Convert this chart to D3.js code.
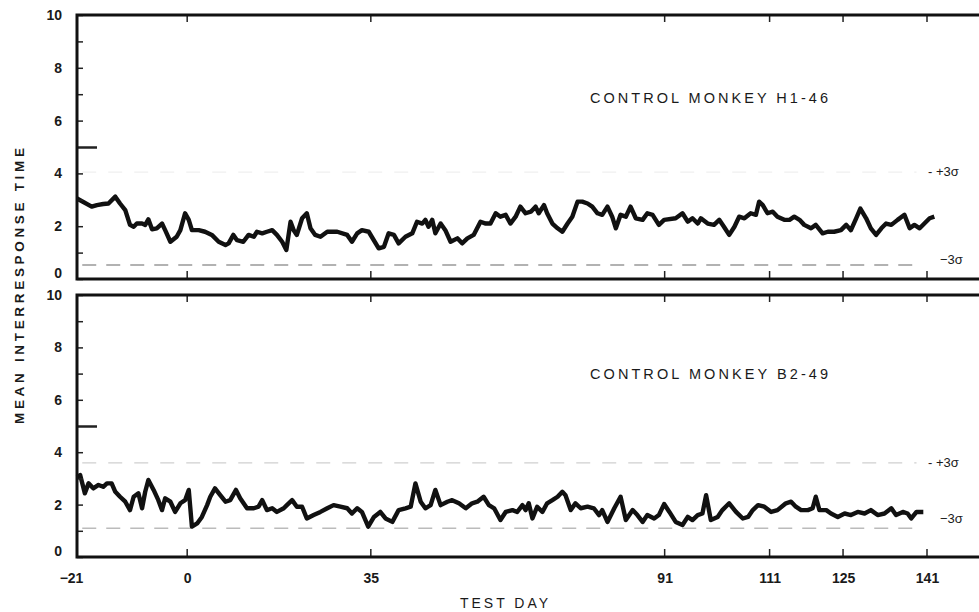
<!DOCTYPE html>
<head>
  <script src="https://cdn.jsdelivr.net/npm/d3@7/dist/d3.min.js"></script>
  <style>
    body { margin: 0; background: #fff }
    text { font-family: "Liberation Sans", Arial, sans-serif; fill: #1a1a1a }
  </style>
</head>

<body>
  <div id="chart"></div>

  <script>
    // values (test day, mean interresponse time)
    const topDays = [-21,-18.2,-17.2,-16,-15,-13.7,-12.8,-11.8,-10.9,-10.2,-9.6,-8.6,-8,-7.4,-6.7,-5.8,-4.8,-4.2,-3.2,-2,-1.3,-0.4,0.3,0.9,2.2,3.4,4.7,6,7.3,7.9,8.8,9.5,10.7,11.7,12.7,13.3,14.3,15.2,16.2,17.1,18.1,18.9,19.7,20.3,20.9,21.9,22.8,23.5,24.4,25.4,26.7,28.6,30.5,31.4,32.4,33.3,34.6,36.5,37.5,38.4,39.4,40.3,41.6,42.9,43.8,44.8,45.4,46,46.7,47.3,48.3,49.2,50.2,51.5,52.4,53.4,54.6,55.9,56.9,57.8,58.8,59.7,60.7,61.6,62.6,63.5,64.5,65.5,66.4,67,68,68.6,69.6,70.6,71.5,72.5,73.4,74.4,75.3,76.3,77.2,78.2,79.1,80.1,81,81.7,82.6,83.6,84.5,85.5,86.8,87.7,88.7,89.9,90.9,93.1,94.4,95.4,96.3,97.3,97.9,99.2,100.4,101.4,102.3,103.3,104.3,105.2,106.2,107.4,108.4,109,109.7,110.6,111.6,112.5,113.8,114.8,115.7,116.7,117.6,118.9,119.8,121.1,122.1,123.3,124.6,125.6,126.5,127.5,128.3,129.4,130.3,131.3,132.3,133.2,134.2,135.4,136.7,137.7,138.6,139.6,140.5,141.5,142.4];
    const topTime = [3.05,2.74,2.8,2.84,2.86,3.12,2.86,2.61,2.05,1.98,2.1,2.1,2.05,2.26,1.88,1.92,2.1,1.85,1.41,1.6,1.85,2.49,2.24,1.85,1.85,1.79,1.67,1.41,1.29,1.35,1.67,1.47,1.41,1.67,1.6,1.79,1.73,1.79,1.85,1.67,1.41,1.1,2.17,1.85,1.67,2.3,2.49,1.92,1.67,1.6,1.79,1.79,1.67,1.41,1.73,1.85,1.79,1.16,1.22,1.73,1.67,1.35,1.6,1.73,2.17,2.1,2.24,1.98,2.24,1.73,2.1,1.85,1.41,1.54,1.35,1.54,1.67,2.17,2.1,2.1,2.49,2.36,2.43,2.1,2.36,2.74,2.49,2.55,2.74,2.49,2.8,2.49,2.1,1.92,1.79,2.1,2.36,2.93,2.93,2.86,2.74,2.49,2.43,2.74,2.36,1.92,2.43,2.36,2.74,2.3,2.24,2.49,2.43,2.05,2.24,2.3,2.49,2.17,2.3,2.1,2.3,2.1,2.05,2.24,1.98,1.67,1.98,2.36,2.3,2.49,2.43,2.93,2.8,2.49,2.55,2.36,2.24,2.24,2.36,2.24,2.05,1.92,2.05,1.73,1.79,1.79,1.85,2.05,1.85,2.3,2.67,2.3,1.92,1.67,1.92,2.1,2.05,2.24,2.43,1.92,2.05,1.92,2.1,2.3,2.36];

    const botDays = [-21,-20.4,-19.5,-18.8,-17.9,-16.9,-16,-15.3,-14.4,-13.7,-12.8,-11.8,-10.9,-10.2,-9.3,-8.6,-8,-7.4,-6.4,-5.5,-4.8,-4.2,-3.2,-2.3,-1.3,-0.4,0.3,0.9,1.9,2.8,3.8,4.4,5.3,6.3,7.3,8.2,9.3,10.1,11.4,12.7,13.6,14.3,15.2,16.2,17.1,18.4,19,20,20.9,21.9,22.8,24.1,25.4,26.7,27.9,29.2,30.5,31.4,32.4,33.3,34.5,35.6,36.8,37.8,39.1,40.3,41.6,42.6,43.5,44.5,45.4,46.4,47.3,48.3,49.6,50.5,51.8,53.1,54.3,55.3,56.5,57.5,58.5,59.7,60.7,62,62.9,63.9,64.5,65.1,65.8,66.7,67.7,68.6,69.6,70.6,71.5,72.1,73.1,74,75,76.3,77.5,78.5,79.1,80.1,81.4,82.6,83.6,84.9,85.8,86.8,87.7,89,89.9,90.9,91.9,93.1,94.4,95.4,96.3,97.3,98.2,98.9,99.8,101.1,102,103.3,104.6,105.9,106.9,107.8,108.8,110,111.3,112.5,114.1,115.1,116,117,118.3,119.2,119.8,120.5,121.8,122.7,124,125.3,126.5,127.8,129.1,130.3,131.6,132.9,134.2,135.1,136.4,137.3,138,139,140.3];
    const botTime = [3.05,3.13,2.43,2.81,2.62,2.75,2.68,2.81,2.81,2.49,2.3,2.11,1.79,2.3,2.43,1.86,2.49,2.94,2.56,2.17,1.79,2.24,2.11,1.72,2.05,2.17,2.56,1.16,1.28,1.53,1.98,2.3,2.62,2.36,2.11,2.17,2.56,2.24,1.86,1.86,1.92,2.17,1.79,1.86,1.72,1.86,1.98,2.17,1.92,1.92,1.47,1.6,1.72,1.86,1.98,1.92,1.86,1.66,1.86,1.72,1.16,1.53,1.72,1.47,1.34,1.79,1.86,1.92,2.81,2.11,1.86,1.98,2.56,1.98,2.11,2.17,2.05,1.86,2.05,2.11,2.3,1.98,1.86,1.41,1.72,1.79,1.72,1.98,1.79,2.05,1.47,1.92,1.72,2.05,2.17,2.3,2.49,2.36,1.79,2.05,1.86,1.92,1.86,1.6,1.79,1.34,1.86,2.3,1.41,1.79,1.6,1.34,1.6,1.47,1.6,2.02,1.72,1.34,1.22,1.53,1.41,1.6,1.66,2.36,1.41,1.53,1.79,2.05,1.72,1.47,1.53,1.79,1.98,1.92,1.72,1.79,2.05,2.11,1.92,1.79,1.79,1.86,2.3,1.79,1.79,1.66,1.53,1.66,1.6,1.72,1.66,1.79,1.6,1.66,1.86,1.6,1.72,1.66,1.47,1.72,1.72];

    const dayTicks = [-21, 0, 35, 91, 111, 125, 141];
    const timeTicks = [0, 1, 2, 3, 4, 5, 6, 7, 8, 9, 10];
    const sigmaTop = [4.05, 0.53];   // +3σ, -3σ
    const sigmaBot = [3.59, 1.1];
    const panelNames = ['CONTROL MONKEY H1-46', 'CONTROL MONKEY B2-49'];

    const width = 979, height = 612;
    const left = 77;

    const svg = d3.select('#chart').append('svg')
      .attr('width', width)
      .attr('height', height);

    const x = d3.scaleLinear().domain([-21, 141]).range([left, 927]);
    const rightEdge = x(155);

    const panels = [
      { top: 15, bottom: 279, days: topDays, vals: topTime, sigma: sigmaTop, name: panelNames[0], hiFaint: true },
      { top: 295, bottom: 557, days: botDays, vals: botTime, sigma: sigmaBot, name: panelNames[1], hiFaint: false }
    ];

    panels.forEach((p, i) => {
      const y = d3.scaleLinear().domain([0, 10]).range([p.bottom, p.top]);
      const g = svg.append('g');

      // sigma lines
      g.append('line')
        .attr('x1', x(-20)).attr('x2', x(139))
        .attr('y1', y(p.sigma[0])).attr('y2', y(p.sigma[0]))
        .attr('stroke', p.hiFaint ? '#f0f0f0' : '#d0d0d0')
        .attr('stroke-width', 1.3)
        .attr('stroke-dasharray', '14 12');
      g.append('line')
        .attr('x1', x(-20)).attr('x2', x(139))
        .attr('y1', y(p.sigma[1])).attr('y2', y(p.sigma[1]))
        .attr('stroke', i === 0 ? '#999' : '#bbb')
        .attr('stroke-width', 1.4)
        .attr('stroke-dasharray', '14 10');
      g.append('text')
        .attr('x', 928).attr('y', y(p.sigma[0]) + 4)
        .style('font-size', '13px')
        .text('- +3σ');
      g.append('text')
        .attr('x', 940).attr('y', y(p.sigma[1]) - (i === 0 ? 1 : 5))
        .style('font-size', '13px')
        .text('−3σ');

      // data line
      const line = d3.line()
        .x((d, j) => x(p.days[j]))
        .y(d => y(d));
      g.append('path')
        .datum(p.vals)
        .attr('fill', 'none')
        .attr('stroke', '#111')
        .attr('stroke-width', 4.4)
        .attr('stroke-linejoin', 'round')
        .attr('d', line);

      // left axis, inward ticks, labels on even values
      const yAxis = d3.axisLeft(y)
        .tickValues(timeTicks)
        .tickSize(-6)
        .tickPadding(15)
        .tickFormat(d => d % 2 === 0 ? d : '');
      const ya = g.append('g').attr('transform', `translate(${left},0)`).call(yAxis);
      ya.select('.domain').remove();
      ya.selectAll('line').attr('stroke', '#222').attr('stroke-width', 1.5);
      ya.selectAll('text').attr('font-size', 14).attr('font-weight', 'bold');
      ya.selectAll('.tick').filter(d => d === 0).select('text').attr('dy', '-0.1em');
      ya.selectAll('.tick').filter(d => d === 5).select('line')
        .attr('x2', 20).attr('stroke-width', 2.5);

      // day ticks top and bottom
      const tickDays = dayTicks.filter(d => d > -21);
      g.selectAll('.tt').data(tickDays).join('line')
        .attr('x1', d => x(d)).attr('x2', d => x(d))
        .attr('y1', p.top).attr('y2', p.top + 7)
        .attr('stroke', '#222').attr('stroke-width', 1.5);
      g.selectAll('.tb').data(tickDays).join('line')
        .attr('x1', d => x(d)).attr('x2', d => x(d))
        .attr('y1', p.bottom).attr('y2', p.bottom - 8)
        .attr('stroke', '#222').attr('stroke-width', 1.5);

      // frame
      g.append('path')
        .attr('d', `M${rightEdge},${p.top}H${left}V${p.bottom}H${rightEdge}`)
        .attr('fill', 'none')
        .attr('stroke', '#111')
        .attr('stroke-width', 3);

      g.append('text')
        .attr('x', 590).attr('y', p.top + (i === 0 ? 88 : 84))
        .attr('textLength', 238)
        .attr('lengthAdjust', 'spacing')
        .style('font-size', '14.5px')
        .text(p.name);

      if (i === 1) {
        const xAxis = d3.axisBottom(x)
          .tickValues(dayTicks)
          .tickSize(0)
          .tickPadding(16)
          .tickFormat(d => d < 0 ? '−' + Math.abs(d) : d);
        const xa = g.append('g').attr('transform', `translate(0,${p.bottom})`).call(xAxis);
        xa.select('.domain').remove();
        xa.selectAll('text').attr('font-size', 14).attr('font-weight', 'bold');
        xa.selectAll('.tick').filter(d => d === -21).select('text').attr('dx', '-6');
      }
    });

    svg.append('text')
      .attr('x', 504).attr('y', 608)
      .attr('text-anchor', 'middle')
      .attr('textLength', 88)
      .attr('lengthAdjust', 'spacing')
      .style('font-size', '14px')
      .text('TEST DAY');

    svg.append('text')
      .attr('transform', 'translate(24,286) rotate(-90)')
      .attr('text-anchor', 'middle')
      .attr('textLength', 276)
      .attr('lengthAdjust', 'spacing')
      .style('font-size', '13.5px')
      .style('font-weight', 'bold')
      .text('MEAN INTERRESPONSE TIME');
  </script>
</body>
